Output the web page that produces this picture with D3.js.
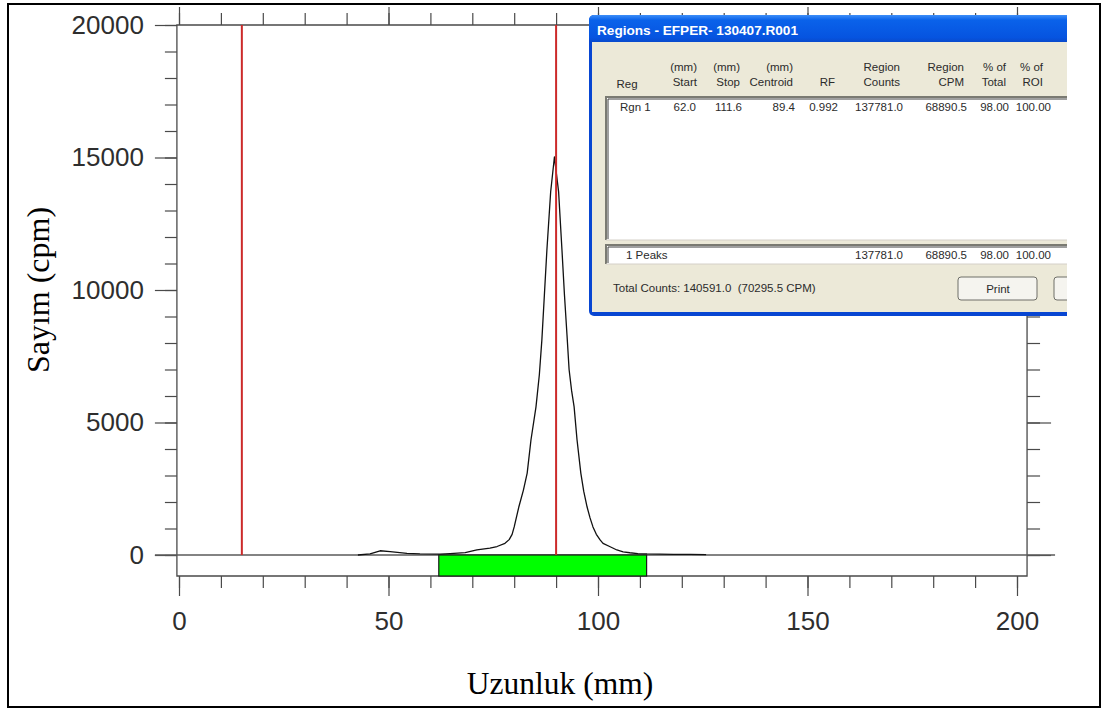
<!DOCTYPE html>
<html>
<head>
<meta charset="utf-8">
<script src="https://cdn.jsdelivr.net/npm/d3@7"></script>
<style>
  html, body { margin: 0; padding: 0; background: #fff; }
  svg { display: block; }
</style>
</head>
<body>
<svg id="chart" width="1105" height="713"></svg>
<script>
// ---- data -------------------------------------------------------------
// Radio-TLC scan trace: position along the strip (mm) and count rate (cpm)
const traceMM  = [42.7, 45.6, 48.0, 50.4, 54.4, 57.5, 62.3, 64.7, 68.3, 71.1, 74.2, 75.9, 77.8, 78.8,
                  79.5, 80.0, 81.1, 82.2, 83.1, 84.0, 85.2, 86.0, 86.6, 87.2, 87.8, 88.7, 89.6,
                  90.6, 91.4, 92.0, 92.6, 93.1, 93.7, 94.3, 95.0, 95.9, 96.6, 97.4, 98.1, 98.8, 99.6,
                  100.5, 101.2, 102.9, 104.5, 106.0, 107.6, 109.5, 111.7, 114.8, 118.0, 122.0, 125.8];
const traceCPM = [0, 40, 160, 125, 60, 40, 30, 50, 90, 190, 260, 320, 440, 580,
                  780, 1060, 1810, 2450, 3090, 4340, 5590, 6800, 8110, 9800, 11500, 13700, 15020,
                  13700, 11510, 9800, 8300, 7000, 6200, 5590, 4340, 3090, 2400, 1810, 1400, 1060, 780,
                  570, 440, 310, 190, 120, 85, 55, 40, 30, 25, 20, 15];

// Origin and front markers (mm)
const markerMM = [15, 90];

// Integrated region of interest
const regionStart = 62.0;
const regionStop  = 111.6;

// Axis ticks
const xTickLabels = [0, 50, 100, 150, 200];
const yTickLabels = [0, 5000, 10000, 15000, 20000];
const xMinorStep = 10;
const yMinorStep = 1000;

// Regions report table
const dialogTitle = "Regions - EFPER- 130407.R001";
const headLine1 = ["", "(mm)", "(mm)", "(mm)", "", "Region", "Region", "% of", "% of"];
const headLine2 = ["Reg", "Start", "Stop", "Centroid", "RF", "Counts", "CPM", "Total", "ROI"];
const regionRow = ["Rgn 1", regionStart.toFixed(1), regionStop.toFixed(1), "89.4", "0.992",
                   "137781.0", "68890.5", "98.00", "100.00"];
const peaksRow  = ["1 Peaks", "", "", "", "", "137781.0", "68890.5", "98.00", "100.00"];
const totalLine = "Total Counts: 140591.0  (70295.5 CPM)";
const buttonLabels = ["Print", ""];

// ---- layout -----------------------------------------------------------
const svg = d3.select("#chart");
const W = 1105, H = 713;

const x = d3.scaleLinear().domain([0, 200]).range([179, 1017]);
const y = d3.scaleLinear().domain([0, 20000]).range([555, 25]);

const frameLeft = x(-0.5), frameRight = x(202.4);
const frameTop = y(20000), frameBottom = 576;

const axisColor = "#4a4a4a";
const labelFont = "'Liberation Sans', Arial, sans-serif";
const titleFont = "'Liberation Serif', 'Times New Roman', serif";

// outer border of the figure
svg.append("rect")
  .attr("x", 8).attr("y", 4).attr("width", W - 13).attr("height", H - 10)
  .attr("fill", "#fff").attr("stroke", "#000").attr("stroke-width", 2);

// ---- axes -------------------------------------------------------------
const xMinor = d3.range(0, 201, xMinorStep);
const yMinor = d3.range(0, 20001, yMinorStep);

function styleAxis(g) {
  g.select(".domain").remove();
  g.selectAll(".tick line").attr("stroke", axisColor).attr("stroke-width", 1.2);
  g.selectAll("text").attr("fill", "#2e2e2e")
    .style("font-family", labelFont).style("font-size", "26px");
}

// bottom: minor + labelled major ticks
svg.append("g").attr("transform", `translate(0,${frameBottom})`)
  .call(d3.axisBottom(x).tickValues(xMinor).tickSize(12).tickFormat(""))
  .call(styleAxis);
svg.append("g").attr("transform", `translate(0,${frameBottom})`)
  .call(d3.axisBottom(x).tickValues(xTickLabels).tickSize(20).tickPadding(16).tickFormat(d3.format("d")))
  .call(styleAxis);

// top: ticks pointing up
svg.append("g").attr("transform", `translate(0,${frameTop})`)
  .call(d3.axisTop(x).tickValues(xMinor).tickSize(12).tickFormat(""))
  .call(styleAxis);
svg.append("g").attr("transform", `translate(0,${frameTop})`)
  .call(d3.axisTop(x).tickValues(xTickLabels).tickSize(18).tickFormat(""))
  .call(styleAxis);

// left: minor + labelled major ticks
svg.append("g").attr("transform", `translate(${frameLeft},0)`)
  .call(d3.axisLeft(y).tickValues(yMinor).tickSize(12).tickFormat(""))
  .call(styleAxis);
svg.append("g").attr("transform", `translate(${frameLeft},0)`)
  .call(d3.axisLeft(y).tickValues(yTickLabels).tickSize(22).tickPadding(11).tickFormat(d3.format("d")))
  .call(styleAxis);

// right: ticks pointing outwards
svg.append("g").attr("transform", `translate(${frameRight},0)`)
  .call(d3.axisRight(y).tickValues(yMinor).tickSize(13).tickFormat(""))
  .call(styleAxis);
svg.append("g").attr("transform", `translate(${frameRight},0)`)
  .call(d3.axisRight(y).tickValues(yTickLabels).tickSize(24).tickFormat(""))
  .call(styleAxis);

// plot frame
svg.append("path")
  .attr("d", `M${frameLeft},${frameTop}H${frameRight}V${frameBottom}H${frameLeft}Z`)
  .attr("fill", "none").attr("stroke", axisColor).attr("stroke-width", 1.3);

// zero count baseline, running across the whole frame
svg.append("line")
  .attr("x1", frameLeft - 22).attr("x2", frameRight + 28)
  .attr("y1", y(0)).attr("y2", y(0))
  .attr("stroke", "#5a5a5a").attr("stroke-width", 1.3);

// ---- marks ------------------------------------------------------------
// region of interest bar below the baseline
svg.append("rect")
  .attr("x", x(regionStart)).attr("y", y(0))
  .attr("width", x(regionStop) - x(regionStart)).attr("height", frameBottom - y(0))
  .attr("fill", "#00ff00").attr("stroke", "#1a1a1a").attr("stroke-width", 1.2);

// scan trace
const trace = traceMM.map((m, i) => [m, traceCPM[i]]);
svg.append("path")
  .datum(trace)
  .attr("d", d3.line().x(d => x(d[0])).y(d => y(d[1])))
  .attr("fill", "none").attr("stroke", "#111").attr("stroke-width", 1.3)
  .attr("stroke-linejoin", "round");

// origin / front markers
svg.selectAll("line.marker").data(markerMM).join("line")
  .attr("class", "marker")
  .attr("x1", d => x(d)).attr("x2", d => x(d))
  .attr("y1", y(20000)).attr("y2", y(0))
  .attr("stroke", "#cc2a2a").attr("stroke-width", 2);

// axis titles
svg.append("text")
  .attr("transform", `translate(49,290) rotate(-90)`)
  .attr("text-anchor", "middle")
  .style("font-family", titleFont).style("font-size", "32px").attr("fill", "#000")
  .text("Sayım (cpm)");
svg.append("text")
  .attr("x", 560).attr("y", 694)
  .attr("text-anchor", "middle")
  .style("font-family", titleFont).style("font-size", "31.5px").attr("fill", "#000")
  .text("Uzunluk (mm)");

// ---- regions report window --------------------------------------------
const dlgX = 589, dlgY = 15, dlgR = 1067, dlgB = 316;
const defs = svg.append("defs");
defs.append("clipPath").attr("id", "dlgClip")
  .append("rect").attr("x", dlgX).attr("y", dlgY).attr("width", dlgR - dlgX).attr("height", dlgB - dlgY);
const grad = defs.append("linearGradient").attr("id", "titleGrad")
  .attr("x1", 0).attr("x2", 0).attr("y1", 0).attr("y2", 1);
grad.append("stop").attr("offset", "0%").attr("stop-color", "#3d8ef8");
grad.append("stop").attr("offset", "18%").attr("stop-color", "#0a62ea");
grad.append("stop").attr("offset", "80%").attr("stop-color", "#0654e0");
grad.append("stop").attr("offset", "100%").attr("stop-color", "#0a48c8");

const dlg = svg.append("g").attr("clip-path", "url(#dlgClip)");
const dlgFont = "'Liberation Sans', Arial, sans-serif";

// window frame and title bar
dlg.append("rect").attr("x", dlgX).attr("y", dlgY).attr("width", 520).attr("height", dlgB - dlgY)
  .attr("rx", 5).attr("fill", "#0846d2");
dlg.append("rect").attr("x", dlgX).attr("y", dlgY).attr("width", 520).attr("height", 28)
  .attr("rx", 5).attr("fill", "url(#titleGrad)");
dlg.append("text").attr("x", 597).attr("y", 35)
  .style("font-family", dlgFont).style("font-size", "13.6px").style("font-weight", "bold")
  .attr("fill", "#fff").text(dialogTitle);

// client area
dlg.append("rect").attr("x", dlgX + 3).attr("y", 42).attr("width", 520).attr("height", 270)
  .attr("fill", "#ece9d8");

// column layout (right edges of numeric columns)
const headRight  = [null, 697, 740, 793, 835, 900, 964, 1006, 1043];
const valueRight = [null, 696, 742, 795, 838, 903, 967, 1009, 1051];

function txt(g, s, xx, yy, anchor) {
  g.append("text").attr("x", xx).attr("y", yy).attr("text-anchor", anchor)
    .style("font-family", dlgFont).style("font-size", "11.5px").style("white-space", "pre")
    .attr("fill", "#2b2b2b").text(s);
}

headLine1.forEach((s, i) => { if (s && i > 0) txt(dlg, s, headRight[i], 71, "end"); });
headLine2.forEach((s, i) => {
  if (i === 0) txt(dlg, s, 627, 88, "middle");
  else txt(dlg, s, headRight[i], 86, "end");
});

// list box (sunken)
function sunken(g, x0, y0, w, h) {
  g.append("rect").attr("x", x0).attr("y", y0).attr("width", w).attr("height", h).attr("fill", "#fff");
  g.append("path").attr("d", `M${x0},${y0 + h}V${y0}H${x0 + w}`)
    .attr("fill", "none").attr("stroke", "#7a7a72").attr("stroke-width", 2);
  g.append("path").attr("d", `M${x0 + 2},${y0 + h - 1}V${y0 + 2}H${x0 + w}`)
    .attr("fill", "none").attr("stroke", "#404040").attr("stroke-width", 1);
  g.append("path").attr("d", `M${x0},${y0 + h}H${x0 + w}`)
    .attr("fill", "none").attr("stroke", "#d4d0c8").attr("stroke-width", 1);
}
sunken(dlg, 606, 97, 470, 143);
regionRow.forEach((s, i) => {
  if (i === 0) txt(dlg, s, 620, 111, "start");
  else txt(dlg, s, valueRight[i], 111, "end");
});

sunken(dlg, 606, 245, 470, 19);
peaksRow.forEach((s, i) => {
  if (!s) return;
  if (i === 0) txt(dlg, s, 626, 259, "start");
  else txt(dlg, s, valueRight[i], 259, "end");
});

txt(dlg, totalLine, 613, 292, "start");

// buttons
const btnX = [958, 1054];
buttonLabels.forEach((s, i) => {
  dlg.append("rect").attr("x", btnX[i]).attr("y", 277).attr("width", 79).attr("height", 23)
    .attr("rx", 3).attr("fill", "#f5f4ef").attr("stroke", "#6f6f68").attr("stroke-width", 1);
  if (s) txt(dlg, s, btnX[i] + 40, 293, "middle");
});
</script>
</body>
</html>
